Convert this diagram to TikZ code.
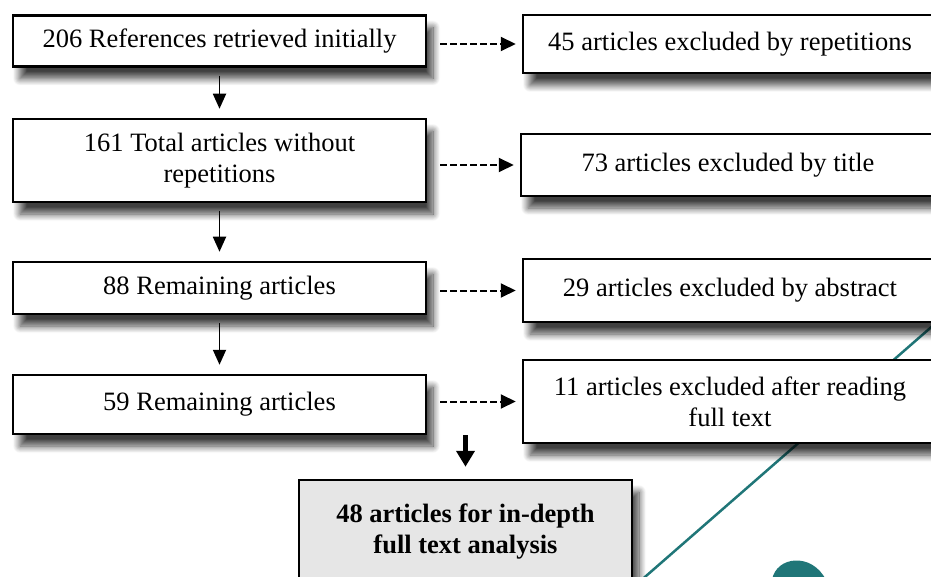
\documentclass[tikz,border=0pt]{standalone}
\usepackage{fontspec}
\setmainfont{Liberation Serif}
\usepackage{tikz}
\usetikzlibrary{arrows.meta, positioning, shadows.blur}
\definecolor{watermarkteal}{RGB}{32, 118, 120}
\definecolor{finalgray}{RGB}{230, 230, 230}

\begin{document}
\begin{tikzpicture}[x=1pt, y=-1pt, font=\fontsize{26.5}{31}\selectfont,
        stagebox/.style={draw=black, line width=2.5pt, fill=white, align=center, inner sep=0pt,
            blur shadow={shadow xshift=7pt, shadow yshift=-12pt, shadow blur steps=12, shadow blur radius=7pt, shadow opacity=75}},
        leftbox/.style={stagebox, minimum width=413pt},
        rightbox/.style={stagebox, minimum width=414pt},
        downarrow/.style={-{Triangle[length=15pt, width=13pt]}, line width=1.8pt, shorten <=8pt, shorten >=9pt},
        excludearrow/.style={-{Triangle[length=15pt, width=14pt]}, line width=2pt, dash pattern=on 6.5pt off 3.5pt, shorten <=13pt, shorten >=6pt}]
        \useasboundingbox (0,0) rectangle (931,577);
        \clip (0,0) rectangle (931,577);

        \draw[watermarkteal, line width=2.5pt] (960,302) -- (630,590);
        \fill[watermarkteal] (772,580) .. controls (776,556) and (812,552) .. (826,580) -- cycle;

        \node[leftbox, minimum height=51pt] (refs) at (219.5,41) {206 References retrieved initially};
        \node[rightbox, minimum height=58pt] (exclrep) at (730,44) {45 articles excluded by repetitions};

        \node[leftbox, minimum height=83pt] (total) at (219.5,160.5) {161 Total articles without\\repetitions};
        \node[rightbox, minimum height=62pt] (excltitle) at (728,165) {73 articles excluded by title};

        \node[leftbox, minimum height=52pt] (remainA) at (219.5,288) {88 Remaining articles};
        \node[rightbox, minimum height=63pt] (exclabs) at (730,290.5) {29 articles excluded by abstract};

        \node[leftbox, minimum height=59pt] (remainB) at (219.5,404.5) {59 Remaining articles};
        \node[rightbox, minimum height=83pt] (exclfull) at (730,401.5) {11 articles excluded after reading\\full text};

        \node[stagebox, fill=finalgray, minimum width=333pt, minimum height=104pt, font=\fontsize{26.5}{31}\selectfont\bfseries] (final) at (465.5,532) {48 articles for in-depth\\full text analysis};

        \draw[downarrow] (refs) -- (total);
        \draw[downarrow] (total) -- (remainA);
        \draw[downarrow] (remainA) -- (remainB);

        \draw[excludearrow] (refs.east |- exclrep.west) -- (exclrep.west);
        \draw[excludearrow] (total.east |- excltitle.west) -- (excltitle.west);
        \draw[excludearrow] (remainA.east |- exclabs.west) -- (exclabs.west);
        \draw[excludearrow] (remainB.east |- exclfull.west) -- (exclfull.west);

        \draw[-{Triangle[length=16pt, width=18pt]}, line width=4.5pt, shorten >=12pt] (remainB.south -| final.north) -- (final.north);
\end{tikzpicture}
\end{document}
